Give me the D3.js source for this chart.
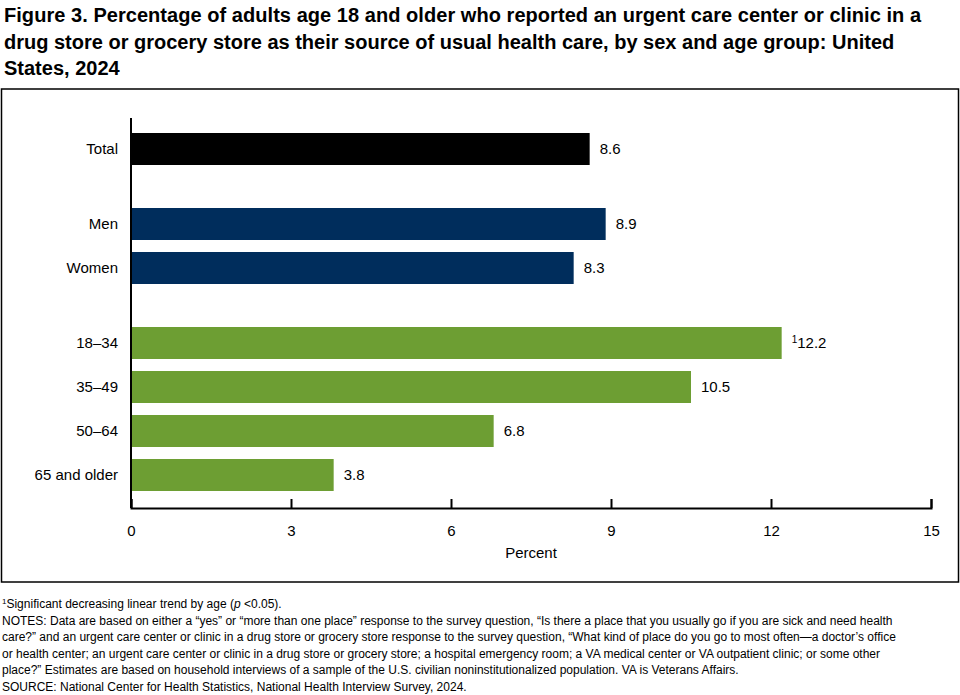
<!DOCTYPE html>
<html><head><meta charset="utf-8">
<script src="https://cdn.jsdelivr.net/npm/d3@7"></script>
<style>body{margin:0;background:#fff}text{font-family:"Liberation Sans",Arial,sans-serif}</style>
</head><body><svg id="c" width="960" height="695"></svg>
<script>
var categories = ['Total', 'Men', 'Women', '18–34', '35–49', '50–64', '65 and older'];
var values = [8.6, 8.9, 8.3, 12.2, 10.5, 6.8, 3.8];
var groups = ['total', 'sex', 'sex', 'age', 'age', 'age', 'age'];
var notes = [1, 0, 0, 1, 0, 0, 0];
var ticks = [0, 3, 6, 9, 12, 15];
var colors = { total: '#000000', sex: '#002D5C', age: '#6D9E33' };
var titleLines = [
  'Figure 3. Percentage of adults age 18 and older who reported an urgent care center or clinic in a',
  'drug store or grocery store as their source of usual health care, by sex and age group: United',
  'States, 2024'
];
var footLines = [
  'NOTES: Data are based on either a “yes” or “more than one place” response to the survey question, “Is there a place that you usually go if you are sick and need health',
  'care?” and an urgent care center or clinic in a drug store or grocery store response to the survey question, “What kind of place do you go to most often—a doctor’s office',
  'or health center; an urgent care center or clinic in a drug store or grocery store; a hospital emergency room; a VA medical center or VA outpatient clinic; or some other',
  'place?” Estimates are based on household interviews of a sample of the U.S. civilian noninstitutionalized population. VA is Veterans Affairs.',
  'SOURCE: National Center for Health Statistics, National Health Interview Survey, 2024.'
];
var centers = [149, 224, 268, 343, 387, 431, 475];

var svg = d3.select('#c');
svg.selectAll('.title').data(titleLines).enter().append('text')
  .attr('x', 4).attr('y', function (d, i) { return 22 + i * 26.5; })
  .attr('font-size', 20).attr('font-weight', 'bold').attr('fill', '#000')
  .attr('textLength', function (d, i) { return i === 0 ? 917 : null; })
  .text(function (d) { return d; });

svg.append('rect').attr('x', 1.5).attr('y', 89).attr('width', 957).attr('height', 493)
  .attr('fill', 'none').attr('stroke', '#000').attr('stroke-width', 1.5);

var x = d3.scaleLinear().domain([0, 15]).range([131, 931]);
var y = d3.scaleOrdinal().domain(categories).range(centers);
var bh = 32;

svg.selectAll('.bar').data(categories).enter().append('rect')
  .attr('x', x(0)).attr('y', function (d) { return y(d) - bh / 2; })
  .attr('width', function (d, i) { return x(values[i]) - x(0); })
  .attr('height', bh).attr('fill', function (d, i) { return colors[groups[i]]; });

svg.selectAll('.cat').data(categories).enter().append('text')
  .attr('x', 118).attr('y', function (d) { return y(d) + 5; })
  .attr('text-anchor', 'end').attr('font-size', 15).text(function (d) { return d; });

var vl = svg.selectAll('.val').data(categories).enter().append('text')
  .attr('x', function (d, i) { return x(values[i]) + 10; })
  .attr('y', function (d) { return y(d) + 5; }).attr('font-size', 15);
vl.each(function (d, i) {
  var t = d3.select(this);
  if (notes[i] && groups[i] === 'age') t.append('tspan').attr('font-size', 10).attr('dy', -5).text('1');
  t.append('tspan').attr('dy', notes[i] && groups[i] === 'age' ? 5 : 0).text(values[i].toFixed(1));
});

var axis = d3.axisBottom(x).tickValues(ticks).tickSize(-9).tickPadding(14).tickFormat(d3.format('d'));
var ag = svg.append('g').attr('transform', 'translate(0,508)').call(axis);
ag.select('.domain').attr('stroke-width', 2);
ag.selectAll('.tick line').attr('stroke-width', 2);
ag.selectAll('text').attr('font-size', 15).attr('font-family', '"Liberation Sans",Arial,sans-serif').attr('dy', '0.9em');
svg.append('line').attr('x1', x(0)).attr('x2', x(0)).attr('y1', 118).attr('y2', 508)
  .attr('stroke', '#000').attr('stroke-width', 2);
svg.append('text').attr('x', x(7.5)).attr('y', 558).attr('text-anchor', 'middle')
  .attr('font-size', 15).text('Percent');

var f1 = svg.append('text').attr('x', 2).attr('y', 608).attr('font-size', 12);
f1.append('tspan').attr('font-size', 8).attr('dy', -4).text('1');
f1.append('tspan').attr('dy', 4).text('Significant decreasing linear trend by age (');
f1.append('tspan').attr('font-style', 'italic').text('p');
f1.append('tspan').text(' <0.05).');
svg.selectAll('.foot').data(footLines).enter().append('text')
  .attr('x', 2).attr('y', function (d, i) { return 624.5 + i * 16.5; })
  .attr('font-size', 12).text(function (d) { return d; });
</script></body></html>
